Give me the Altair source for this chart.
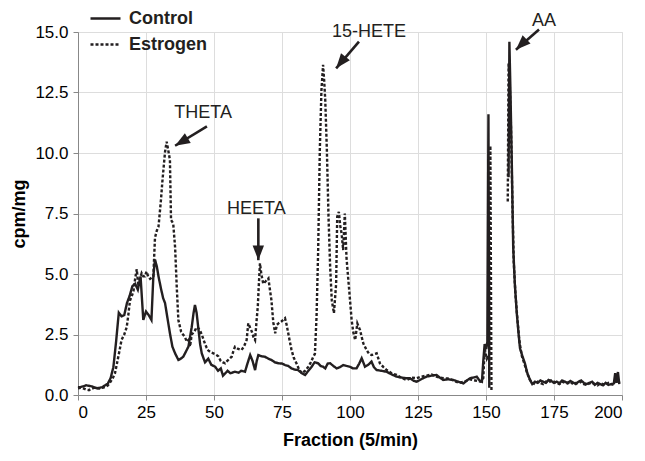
import altair as alt
import pandas as pd

# ---------------- data ----------------
series_names = ["Control", "Estrogen"]

control_x = [0, 1, 2, 3, 4, 5, 6, 7, 8, 9, 10, 11, 12, 13, 14, 15, 16, 17, 18, 19, 20, 21, 22, 23,
             24, 25, 26, 27, 27.7, 28.3, 29, 29.6, 30.5, 31.3, 32, 33, 33.8, 34.7, 35.7, 36.9, 37.8,
             38.7, 39.7, 40.6, 41.8, 42.5, 43, 43.6, 44.2, 44.9, 45.5, 46.7, 47.9, 49, 50.4, 51.5,
             52.5, 53.3, 54.1, 55, 56, 57.7, 59, 60, 61.4, 62.3, 63.3, 64.2, 65.1, 65.7, 66.3, 67.5,
             68.7, 70, 71.1, 72.4, 73.7, 75, 76.1, 77.3, 78.5, 79.7, 80.9, 82.3, 83.5, 84.7, 85.9,
             87, 88.3, 89.2, 90.1, 90.9, 91.8, 92.7, 93.9, 95.1, 96.3, 97.5, 98.7, 99.9, 101.1,
             102.4, 103.4, 104.3, 105.5, 106.7, 107.9, 108.8, 109.8, 111.6, 113.5, 115.3, 117.1,
             119, 120.9, 122.1, 123.5, 124.5, 125.7, 127, 128.2, 130, 131.8, 133, 134.3, 136, 138,
             139.8, 141.7, 143, 144.1, 145.3, 146.6, 147.6, 148.5, 149, 149.5, 150.1, 150.5, 150.9,
             151.2,
             158.3, 158.6, 159, 159.5, 160, 160.6, 161.3, 162, 162.5, 163.4, 164.3, 165.2, 166.2,
             167, 168, 169, 170, 171, 172, 173, 174, 175, 176, 177, 178, 179, 180, 181, 182, 183,
             184, 185, 186, 187, 188, 189, 190, 191, 192, 193, 194, 195, 196, 197, 197.5, 198,
             198.5, 199]
control_y = [0.32, 0.33, 0.36, 0.40, 0.38, 0.36, 0.31, 0.28, 0.30, 0.33, 0.40, 0.48, 0.70, 1.15,
             2.2, 3.4, 3.25, 3.3, 3.8, 4.1, 4.5, 4.6, 4.35, 4.9, 3.1, 3.45, 3.3, 3.1, 4.9, 5.6, 5.3,
             4.9, 4.4, 4.0, 3.8, 3.1, 2.55, 2.0, 1.72, 1.45, 1.5, 1.58, 1.8, 2.0, 2.8, 3.4, 3.72, 3.4,
             2.8, 2.1, 1.72, 1.35, 1.5, 1.25, 1.17, 1.0, 1.1, 0.8, 0.89, 1.0, 0.9, 0.96, 0.92, 1.0,
             0.96, 1.3, 1.65, 1.4, 1.03, 1.4, 1.65, 1.6, 1.58, 1.5, 1.45, 1.35, 1.31, 1.3, 1.24, 1.2,
             1.1, 1.05, 1.03, 0.9, 0.83, 1.0, 1.17, 1.35, 1.31, 1.2, 1.17, 1.1, 1.3, 1.31, 1.2, 1.1,
             1.15, 1.24, 1.2, 1.17, 1.1, 1.1, 1.3, 1.52, 1.17, 1.25, 1.38, 1.15, 1.03, 1.0, 0.96,
             0.85, 0.76, 0.72, 0.69, 0.69, 0.58, 0.55, 0.62, 0.7, 0.76, 0.8, 0.83, 0.72, 0.62, 0.65,
             0.62, 0.55, 0.48, 0.6, 0.69, 0.72, 0.76, 0.6, 0.55, 1.4, 2.1, 1.9, 2.2, 11.6, 0.3,
             9.0, 14.6, 12.5, 9.5, 6.1, 4.6, 3.4, 2.5, 1.93, 1.6, 1.31, 0.9, 0.62,
             0.45, 0.55, 0.5, 0.6, 0.55, 0.5, 0.62, 0.58, 0.5, 0.55, 0.48, 0.6, 0.55, 0.5, 0.58,
             0.52, 0.45, 0.55, 0.6, 0.5, 0.45, 0.5, 0.55, 0.42, 0.5, 0.45, 0.4, 0.5, 0.42, 0.45,
             0.48, 0.9, 0.5, 0.95, 0.45]

estrogen_x = [0, 1, 2, 3, 4, 5, 6, 7, 8, 9, 10, 11, 12, 13, 13.6, 14.5, 15.2, 16, 17, 17.9, 18.5,
              19.1, 19.8, 20.4, 21, 21.6, 22.2, 22.8, 23.4, 24, 24.6, 25.2, 25.8, 26.5, 27.1, 27.7,
              28.3, 29, 29.6, 30.5, 31, 31.4, 32, 32.6, 33.2, 33.8, 34.2, 35, 35.7, 36.3, 36.9,
              37.9, 38.6, 39.3, 40, 40.6, 41.2, 41.8, 42.7, 43.6, 44.3, 44.9, 45.8, 46.7, 47.3,
              47.9, 49.1, 50.2, 50.9, 51.6, 52.5, 53.3, 54.1, 54.8, 55.7, 56.5, 57.1, 57.7, 58.9,
              60.1, 61, 62, 62.6, 63.2, 63.9, 64.5, 65.1, 65.6, 66.1, 66.5, 66.9, 67.4, 68.1, 69,
              70, 70.5, 71.1, 71.8, 72.5, 73.1, 73.7, 74.9, 76.1, 76.7, 77.3, 77.9, 78.5, 79.3,
              80.3, 81.3, 82.3, 83.5, 84.7, 85.6, 86.5, 87.1, 87.7, 88.3, 88.9, 89.5, 90.1, 90.5,
              90.9, 91.5, 92.1, 92.7, 93.3, 94.1, 94.9, 95.3, 95.9, 96.4, 96.9, 97.5, 98.1, 98.7,
              99.2, 99.7, 100.6, 101.2, 101.9, 102.7, 103.7, 104.3, 104.9, 106.1, 107, 107.9,
              109.8, 111, 112.3, 113.5, 115.3, 117.1, 119, 120.9, 122.7, 124.5, 126, 128, 130, 132,
              134, 136, 138, 140, 142, 144, 146, 148, 149, 149.5, 150.3, 151.2, 151.6, 152,
              158, 158.3, 158.7, 159.2, 159.7, 160.2, 160.8, 161.5, 162.3, 163.2, 164.1, 165, 166,
              167, 168, 169, 170, 171, 172, 173, 174, 175, 176, 177, 178, 179, 180, 181, 182, 183,
              184, 185, 186, 187, 188, 189, 190, 191, 192, 193, 194, 195, 196, 197, 198, 199]
estrogen_y = [0.28, 0.30, 0.27, 0.22, 0.20, 0.26, 0.30, 0.28, 0.27, 0.30, 0.33, 0.40, 0.55, 0.75,
              0.9, 1.4, 1.8, 2.27, 2.5, 2.8, 3.3, 3.9, 4.1, 4.3, 4.8, 5.2, 4.5, 4.8, 5.03, 4.9, 4.9,
              5.1, 4.9, 4.8, 4.85, 4.9, 6.5, 6.8, 6.96, 8.06, 8.8, 9.3, 10.05, 10.47, 10.1, 9.71,
              7.23, 7.09, 6.1, 4.48, 3.1, 2.62, 2.5, 2.4, 2.2, 2.27, 2.0, 2.5, 2.6, 2.8, 2.75, 2.66,
              2.4, 2.11, 1.95, 1.84, 1.75, 1.7, 1.65, 1.6, 1.4, 1.35, 1.31, 1.4, 1.5, 1.58, 1.8,
              1.99, 1.9, 1.86, 2.0, 2.27, 2.96, 2.8, 2.62, 2.4, 2.27, 3.0, 3.65, 4.6, 5.44, 5.0,
              4.6, 4.7, 4.82, 4.4, 3.93, 3.0, 2.55, 2.9, 2.96, 3.05, 3.17, 2.9, 2.55, 2.2, 1.86,
              1.55, 1.31, 1.05, 0.9, 1.0, 1.17, 1.35, 1.58, 1.7, 3.24, 6.0, 10.1, 12.6, 13.64, 13.0,
              12.19, 10.1, 7.37, 5.3, 3.92, 3.38, 4.6, 7.37, 7.57, 7.0, 6.68, 5.99, 7.5, 5.7, 5.0,
              4.34, 3.1, 2.6, 2.27, 2.96, 2.68, 2.4, 2.13, 1.86, 1.7, 1.65, 1.72, 1.31, 1.15, 1.03,
              0.9, 0.83, 0.7, 0.62, 0.72, 0.69, 0.75, 0.8, 0.85, 0.75, 0.7, 0.68, 0.6, 0.5, 0.55,
              0.65, 0.6, 0.55, 0.7, 1.9, 1.5, 1.7, 10.3, 0.2,
              8.0, 13.7, 13.0, 11.0, 8.0, 5.5, 4.2, 3.2, 2.2, 1.6, 1.3, 0.95, 0.65,
              0.5, 0.45, 0.55, 0.5, 0.45, 0.55, 0.5, 0.6, 0.55, 0.5, 0.45, 0.55, 0.5, 0.48, 0.55,
              0.45, 0.5, 0.48, 0.55, 0.45, 0.42, 0.48, 0.5, 0.45, 0.4, 0.48, 0.45, 0.42, 0.5, 0.45,
              0.42, 0.85, 0.5]

x_ticks = [0, 25, 50, 75, 100, 125, 150, 175, 200]
y_ticks = [0.0, 2.5, 5.0, 7.5, 10.0, 12.5, 15.0]

# annotations (data units)
ann_text = ["THETA", "HEETA", "15-HETE", "AA"]
ann_text_x = [46.0, 65.6, 107.0, 171.3]
ann_text_y = [11.67, 7.67, 15.0, 15.45]
arrow_x0 = [47.4, 66.3, 103.3, 169.5]
arrow_y0 = [11.1, 7.3, 14.6, 15.1]
arrow_x1 = [35.7, 66.3, 94.9, 161.0]
arrow_y1 = [10.3, 5.57, 13.5, 14.27]
arrow_angle = [239, 180, 219, 226]

GAP = 155  # fractions between the two late peaks are not plotted

# ---------------- build tables ----------------
rows = []
for name, xs, ys in [("Control", control_x, control_y), ("Estrogen", estrogen_x, estrogen_y)]:
    for xv, yv in zip(xs, ys):
        rows.append({"fraction": xv, "cpm": yv, "series": name,
                     "seg": name + ("-a" if xv < GAP else "-b")})
df = pd.DataFrame(rows)

ann = pd.DataFrame({"label": ann_text, "tx": ann_text_x, "ty": ann_text_y,
                    "ax0": arrow_x0, "ay0": arrow_y0, "ax1": arrow_x1, "ay1": arrow_y1,
                    "angle": arrow_angle})

INK = "#231f20"
FONT = "Liberation Sans"

xscale = alt.Scale(domain=[0, 200], nice=False, zero=False)
yscale = alt.Scale(domain=[0, 15], nice=False)

lines = alt.Chart(df).mark_line(strokeWidth=2.4, color=INK).encode(
    x=alt.X("fraction:Q", scale=xscale,
            axis=alt.Axis(values=x_ticks, title="Fraction (5/min)", format="d",
                          labelFontSize=17, titleFontSize=18, titlePadding=11, labelPadding=4)),
    y=alt.Y("cpm:Q", scale=yscale,
            axis=alt.Axis(values=y_ticks, title="cpm/mg", format=".1f",
                          labelFontSize=17, titleFontSize=18, titlePadding=6, labelPadding=5)),
    strokeDash=alt.StrokeDash(
        "series:N",
        scale=alt.Scale(domain=series_names, range=[[1, 0], [3, 2]]),
        legend=alt.Legend(title=None, orient="none", legendX=11, legendY=-30,
                          symbolType="stroke", symbolStrokeWidth=2.5, symbolSize=900,
                          symbolStrokeColor=INK, labelFontSize=18, labelFont=FONT,
                          labelFontWeight="bold", labelColor=INK, rowPadding=0,
                          padding=0, labelOffset=7)),
    detail="seg:N",
    order="fraction:Q",
)

shafts = alt.Chart(ann).mark_rule(strokeWidth=2.6, color=INK).encode(
    x="ax0:Q", y="ay0:Q", x2="ax1:Q", y2="ay1:Q")

heads = alt.Chart(ann).mark_point(
    shape="M0,0L-1,2.6L1,2.6Z", filled=True, size=130, color=INK, opacity=1, strokeWidth=0
).encode(x="ax1:Q", y="ay1:Q", angle=alt.Angle("angle:Q", scale=None))

labels = alt.Chart(ann).mark_text(
    font=FONT, fontSize=18, color=INK, align="center", baseline="middle"
).encode(x="tx:Q", y="ty:Q", text="label:N")

chart = alt.layer(lines, shafts, heads, labels).properties(
    width=544, height=363,
    autosize=alt.AutoSizeParams(type="none"),
    padding={"left": 70, "top": 24, "right": 15, "bottom": 58},
).configure_view(stroke=None).configure_axis(
    grid=False, domainColor=INK, domainWidth=1.5, tickColor=INK, tickWidth=1.5, tickSize=5,
    labelFont=FONT, labelFontWeight="bold", labelColor=INK,
    titleFont=FONT, titleFontWeight="bold", titleColor=INK,
).configure(background="white")

chart.save("out.html", embed_options={"renderer": "svg", "actions": False})
